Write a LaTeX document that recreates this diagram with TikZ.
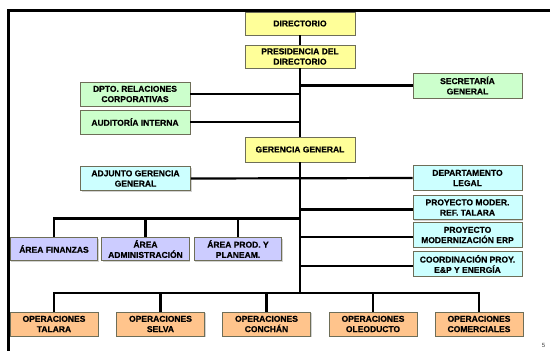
\documentclass[tikz,border=0pt]{standalone}
\usepackage{fontspec}
\setmainfont{Liberation Sans}
\newfontfamily\boxfont{Liberation Sans}[BoldFeatures={FakeBold=0.6}]
\usetikzlibrary{shadows}
\definecolor{bxyellow}{HTML}{FFFF99}
\definecolor{bxgreen}{HTML}{CCFFCC}
\definecolor{bxcyan}{HTML}{CCFFFF}
\definecolor{bxlav}{HTML}{CCCCFF}
\definecolor{bxorange}{HTML}{FFC48C}
\definecolor{bxborder}{HTML}{6E6E58}
\tikzset{
  box/.style={draw=bxborder, line width=0.8pt, rectangle, inner sep=0pt, align=center,
    font=\boxfont\fontsize{8.5}{10.3}\selectfont\bfseries, text=black,
    drop shadow={shadow xshift=1.2pt, shadow yshift=-1.2pt, fill=black!35}},
  ybox/.style={box, fill=bxyellow, minimum width=110pt, minimum height=23pt},
  gbox/.style={box, fill=bxgreen, minimum width=110pt, minimum height=24pt},
  cbox/.style={box, fill=bxcyan, minimum width=110pt, minimum height=24pt},
  rbox/.style={box, fill=bxcyan, minimum width=109pt, minimum height=24.5pt},
  lbox/.style={box, fill=bxlav, minimum width=87.5pt, minimum height=23pt},
  obox/.style={box, fill=bxorange, minimum width=88pt, minimum height=24pt},
  thickline/.style={line width=2.2pt},
  thinline/.style={line width=1.2pt},
}
\begin{document}
\begin{tikzpicture}[x=1pt, y=-1pt]
\useasboundingbox (0,0) rectangle (550,351);
\fill[white] (0,0) rectangle (550,351);
% frame
\draw[line width=3.5pt] (550,10.5) -- (8.5,10.5) -- (8.5,351);
% nodes
\node[ybox] (dir) at (300,23.5) {DIRECTORIO};
\node[ybox] (pres) at (300,56.5) {PRESIDENCIA DEL\\DIRECTORIO};
\node[gbox, minimum width=109pt, minimum height=25pt] (sec) at (467.5,85.5) {SECRETARÍA\\GENERAL};
\node[gbox] (dpto) at (135,94) {DPTO. RELACIONES\\CORPORATIVAS};
\node[gbox] (aud) at (135,122) {AUDITORÍA INTERNA};
\node[ybox, minimum height=25pt] (ger) at (300,149.5) {GERENCIA GENERAL};
\node[cbox] (adj) at (135.5,178.5) {ADJUNTO GERENCIA\\GENERAL};
\node[rbox] (legal) at (467.5,178) {DEPARTAMENTO\\LEGAL};
\node[rbox] (moder) at (467.5,207.5) {PROYECTO MODER.\\REF. TALARA};
\node[rbox] (erp) at (467.5,235) {PROYECTO\\MODERNIZACIÓN ERP};
\node[rbox] (coord) at (467.5,264) {COORDINACIÓN PROY.\\E\&P Y ENERGÍA};
\node[lbox] (fin) at (54,249) {ÁREA FINANZAS};
\node[lbox] (adm) at (145.5,249) {ÁREA\\ADMINISTRACIÓN};
\node[lbox] (prod) at (238,249) {ÁREA PROD. Y\\PLANEAM.};
\node[obox] (tal) at (54,324) {OPERACIONES\\TALARA};
\node[obox] (sel) at (160.5,324) {OPERACIONES\\SELVA};
\node[obox] (con) at (266.5,324) {OPERACIONES\\CONCHÁN};
\node[obox] (ole) at (373,324) {OPERACIONES\\OLEODUCTO};
\node[obox] (com) at (479,324) {OPERACIONES\\COMERCIALES};
\node[font=\fontsize{6}{7}\selectfont, text=black!75] (pg) at (543.5,345.5) {5};
% trunk coordinates
\coordinate (abar) at (300,218.5);
\coordinate (obar) at (300,293);
% connectors
\draw[thickline] (dir) -- (pres);
\draw[thickline] (pres) -- (ger);
\draw[thickline] (ger.south) -- (obar);
\draw[thickline] (sec.west) -- (sec.west -| pres.south);
\draw[thickline] (dpto.east) -- (dpto.east -| pres.south);
\draw[thickline] (aud.east) -- (aud.east -| pres.south);
\draw[thickline] (adj.east) -- (legal.west);
\draw[thickline] ([yshift=-2pt]moder.west) -- ([yshift=-2pt]moder.west -| ger.south);
\draw[thinline] ([yshift=-2pt]erp.west) -- ([yshift=-2pt]erp.west -| ger.south);
\draw[thinline] ([yshift=-2pt]coord.west) -- ([yshift=-2pt]coord.west -| ger.south);
\draw[thickline] (abar) -- (fin.north |- abar) -- (fin.north);
\draw[thickline] (adm.north |- abar) -- (adm.north);
\draw[thickline] (prod.north |- abar) -- (prod.north);
\draw[thickline] (tal.north) -- (tal.north |- obar) -- (com.north |- obar) -- (com.north);
\draw[thickline] (sel.north |- obar) -- (sel.north);
\draw[thickline] (con.north |- obar) -- (con.north);
\draw[thinline] (ole.north |- obar) -- (ole.north);
\end{tikzpicture}
\end{document}
